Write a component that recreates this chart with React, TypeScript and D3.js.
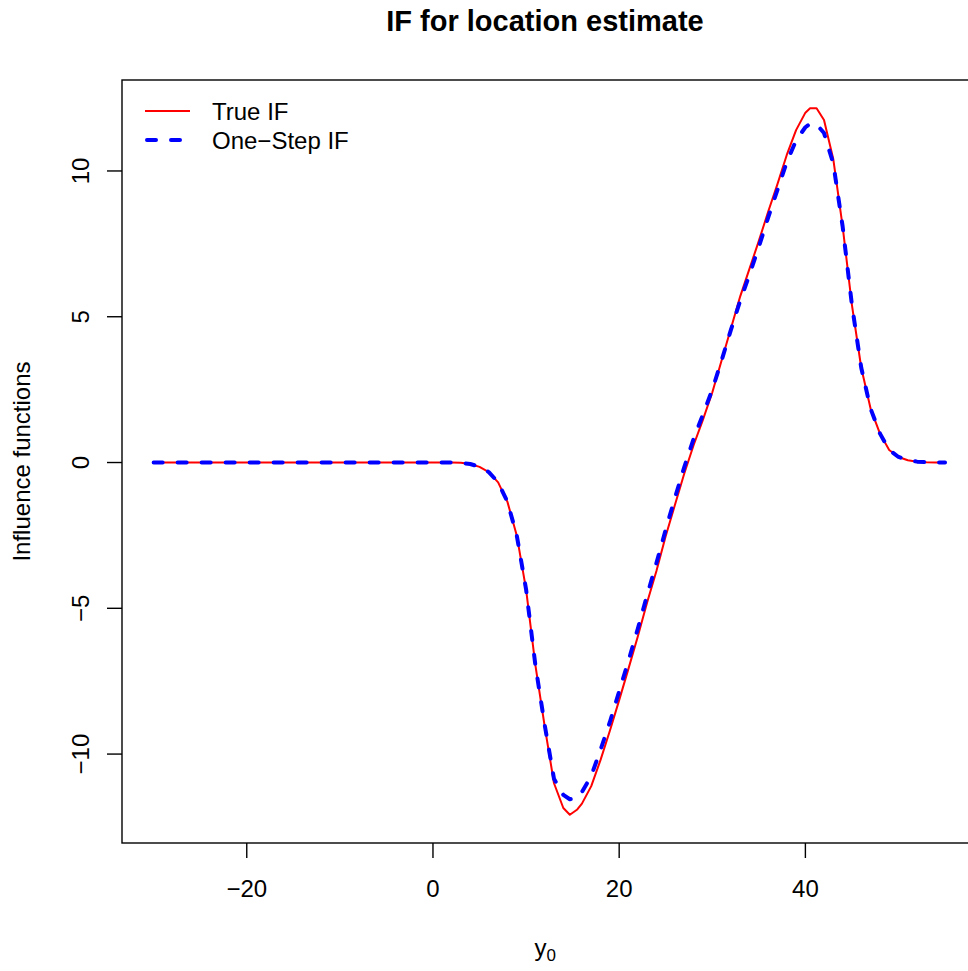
import React from 'react';
import * as d3 from 'd3';

const xs = [-30, -25, -20, -15, -10, -5, 0, 1, 2, 3, 4, 5, 6, 7, 8, 9, 10, 11, 12, 13, 14, 14.7, 15.5,
  16, 17, 18, 19, 20, 21, 22, 23, 24, 25, 26, 27, 28, 29, 30, 31, 32, 33, 34, 35, 36, 37, 38, 39, 40,
  40.5, 41.2, 42, 43, 44, 45, 46, 47, 48, 49, 50, 51, 52, 53, 54, 55];

const trueIF = [0, 0, 0, 0, 0, 0, 0, 0, 0, -0.01, -0.05, -0.15, -0.33, -0.68, -1.35, -2.5, -4.35, -6.95, -9.05, -11.0, -11.85, -12.08, -11.9,
  -11.7, -11.1, -10.2, -9.2, -8.15, -7.07, -5.97, -4.8, -3.72, -2.52, -1.44, -0.37, 0.6, 1.47, 2.4, 3.5, 4.6, 5.7, 6.65, 7.6, 8.6, 9.55, 10.55, 11.4, 12.0,
  12.15, 12.15, 11.75, 10.4, 8.1, 5.4, 3.25, 1.85, 1.0, 0.43, 0.19, 0.08, 0.03, 0.01, 0, 0];

const oneStepIF = [0, 0, 0, 0, 0, 0, 0, 0, 0, -0.01, -0.05, -0.15, -0.33, -0.68, -1.35, -2.5, -4.35, -6.95, -9.0, -10.85, -11.4, -11.55, -11.5,
  -11.3, -10.75, -9.85, -8.9, -7.85, -6.8, -5.7, -4.55, -3.45, -2.3, -1.2, -0.15, 0.82, 1.65, 2.5, 3.5, 4.55, 5.55, 6.45, 7.4, 8.4, 9.35, 10.3, 11.05, 11.5,
  11.62, 11.6, 11.3, 10.25, 8.1, 5.4, 3.25, 1.85, 1.0, 0.43, 0.19, 0.08, 0.03, 0.01, 0, 0];

const xTicks = [-20, 0, 20, 40];
const yTicks = [-10, -5, 0, 5, 10];
const xDomain = [-33.4, 58.4];
const yDomain = [-13.05, 13.12];
const legendLabels = ['True IF', 'One\u2212Step IF'];
const fmt = (v: number) => (v < 0 ? '\u2212' + Math.abs(v) : String(v));

export default function App() {
  const W = 968, H = 971;
  const left = 122, right = 976.7, top = 80, bottom = 843;
  const x = d3.scaleLinear().domain(xDomain).range([left, right]);
  const y = d3.scaleLinear().domain(yDomain).range([bottom, top]);
  const mk = (vals: number[]) =>
    d3.line<number>().x((_, i) => x(xs[i])).y((d) => y(d))(vals) || '';
  const font = 'Liberation Sans, Arial, Helvetica, sans-serif';
  const cx = (left + right) / 2;
  const cy = (top + bottom) / 2;
  return (
    <svg width={W} height={H} style={{ position: 'absolute', left: 0, top: 0, background: '#fff' }}
      fontFamily={font}>
      <rect x={0} y={0} width={W} height={H} fill="#fff" />
      <text x={545} y={31} textAnchor="middle" fontSize={29} fontWeight="bold">IF for location estimate</text>
      <path d={mk(trueIF)} fill="none" stroke="#ff0000" strokeWidth={2} strokeLinejoin="round" />
      <path d={mk(oneStepIF)} fill="none" stroke="#0000ff" strokeWidth={4} strokeDasharray="9,15"
        strokeLinecap="round" strokeLinejoin="round" />
      <rect x={left} y={top} width={right - left} height={bottom - top} fill="none" stroke="#000" strokeWidth={1.4} />
      {xTicks.map((t) => (
        <g key={'x' + t}>
          <line x1={x(t)} x2={x(t)} y1={bottom} y2={bottom + 15} stroke="#000" strokeWidth={1.4} />
          <text x={x(t)} y={897} textAnchor="middle" fontSize={24}>{fmt(t)}</text>
        </g>
      ))}
      {yTicks.map((t) => (
        <g key={'y' + t}>
          <line x1={left - 15} x2={left} y1={y(t)} y2={y(t)} stroke="#000" strokeWidth={1.4} />
          <text transform={`translate(89,${y(t)}) rotate(-90)`} textAnchor="middle" fontSize={24}>{fmt(t)}</text>
        </g>
      ))}
      <text x={cx - 4} y={956} textAnchor="middle" fontSize={24}>
        y<tspan fontSize={17} dy={5}>0</tspan>
      </text>
      <text transform={`translate(30,${cy}) rotate(-90)`} textAnchor="middle" fontSize={24}>Influence functions</text>
      <line x1={145} x2={190} y1={111} y2={111} stroke="#ff0000" strokeWidth={2} />
      <line x1={147} x2={190} y1={140} y2={140} stroke="#0000ff" strokeWidth={4} strokeDasharray="9,15" strokeLinecap="round" />
      <text x={212} y={119.5} fontSize={24}>{legendLabels[0]}</text>
      <text x={212} y={148.5} fontSize={24}>{legendLabels[1]}</text>
    </svg>
  );
}
